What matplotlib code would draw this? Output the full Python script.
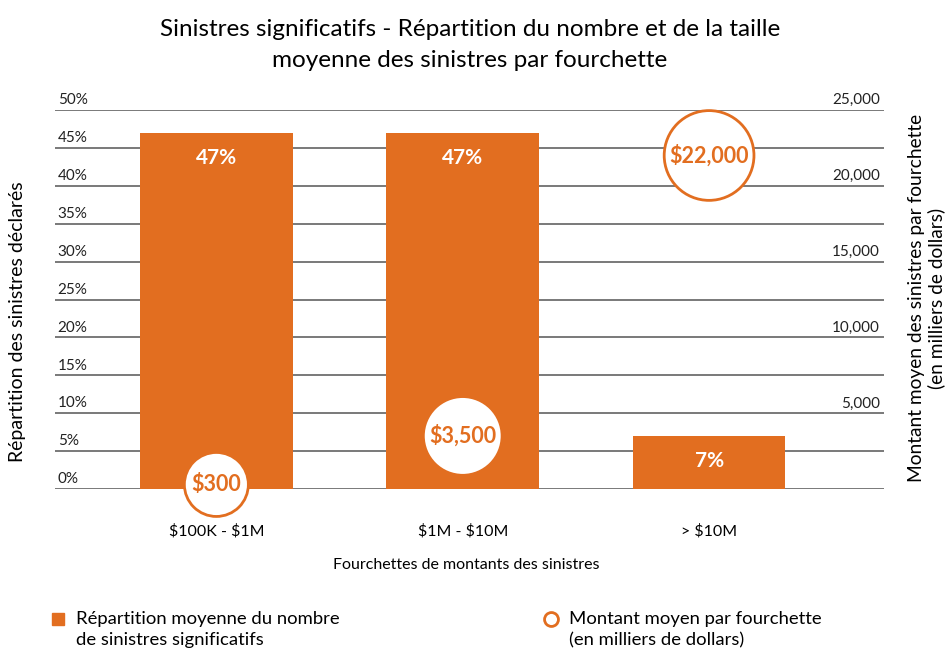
import numpy as np
import matplotlib

matplotlib.use("Agg")
import matplotlib.pyplot as plt  # noqa: E402
from matplotlib.lines import Line2D  # noqa: E402
from matplotlib.patches import Rectangle  # noqa: E402

# data
categories = ["$100K - $1M", "$1M - $10M", "> $10M"]
share_pct = [47, 47, 7]
avg_amount = [300, 3500, 22000]  # milliers de dollars
left_ticks = [0, 5, 10, 15, 20, 25, 30, 35, 40, 45, 50]
right_ticks = [5000, 10000, 15000, 20000, 25000]

ORANGE = "#e26e20"
GRID = "#555555"
FONT = "Lato"

plt.rcParams["font.family"] = [FONT, "DejaVu Sans"]
plt.rcParams["text.parse_math"] = False

fig = plt.figure(figsize=(9.51, 6.52), dpi=100)
ax = fig.add_axes([55 / 951, 1 - 489 / 652, 829 / 951, 379 / 652])
ax2 = ax.twinx()

x = np.arange(len(categories))
ax.set_xlim(-0.655, 2.71)
ax.set_ylim(0, 50)
ax2.set_ylim(0, 25000)

for a in (ax, ax2):
    for s in a.spines.values():
        s.set_visible(False)
    a.tick_params(left=False, right=False, bottom=False, labelleft=False, labelright=False)

ax.set_axisbelow(True)
ax.set_yticks(left_ticks)
ax.grid(axis="y", color=GRID, linewidth=1.1)
ax.grid(axis="x", visible=False)

ax.bar(x, share_pct, width=0.62, color=ORANGE, zorder=2)
for xi, v in zip(x, share_pct):
    ax.annotate(f"{v}%", (xi, v), xytext=(0, -18), textcoords="offset points",
                ha="center", va="center", color="white", fontsize=15, fontweight="bold")

# left tick labels sit on top of the grid lines
for t in left_ticks:
    ax.annotate(f"{t}%", (0, t), xycoords=("axes fraction", "data"), xytext=(2, 2),
                textcoords="offset points", ha="left", va="bottom", fontsize=11, color="#222222")
for t in right_ticks:
    ax2.annotate(f"{t:,}", (1, t), xycoords=("axes fraction", "data"), xytext=(-3, 2),
                 textcoords="offset points", ha="right", va="bottom", fontsize=11, color="#222222")

# bubbles: radius grows with log of the amount
radius_px = 32 + 3.0 * (np.log(avg_amount) - np.log(avg_amount[0]))
sizes = (2 * radius_px * 0.72) ** 2
ax2.scatter(x, avg_amount, s=sizes, facecolor="white", edgecolor=ORANGE,
            linewidth=2, zorder=3, clip_on=False)
for xi, v in zip(x, avg_amount):
    ax2.text(xi, v, f"${v:,}", ha="center", va="center", color=ORANGE,
             fontsize=15.5, fontweight="bold", zorder=4)

ax.set_xticks(x)
ax.set_xticklabels(categories, fontsize=11.5)
ax.tick_params(axis="x", pad=22, labelbottom=True)

fig.text(0.49, 1 - 565 / 652, "Fourchettes de montants des sinistres",
         ha="center", va="center", fontsize=11.5)

fig.text(18 / 951, 1 - 322 / 652, "Répartition des sinistres déclarés",
         rotation=90, ha="center", va="center", fontsize=14)
fig.text(927 / 951, 1 - 298 / 652,
         "Montant moyen des sinistres par fourchette\n(en milliers de dollars)",
         rotation=90, ha="center", va="center", fontsize=13.8, linespacing=1.15)

fig.text(0.494, 1 - 45 / 652,
         "Sinistres significatifs - Répartition du nombre et de la taille\n"
         "moyenne des sinistres par fourchette",
         ha="center", va="center", fontsize=17.5, linespacing=1.55)

# legend
fig.add_artist(Rectangle((52 / 951, 1 - 625 / 652), 12 / 951, 12 / 652,
                         transform=fig.transFigure, color=ORANGE))
fig.text(76 / 951, 1 - 611 / 652, "Répartition moyenne du nombre\nde sinistres significatifs",
         ha="left", va="top", fontsize=13.3, linespacing=1.4)
fig.add_artist(Line2D([551 / 951], [1 - 619 / 652], marker="o", markersize=10,
                      markerfacecolor="white", markeredgecolor=ORANGE, markeredgewidth=2,
                      linestyle="none", transform=fig.transFigure))
fig.text(569 / 951, 1 - 611 / 652, "Montant moyen par fourchette\n(en milliers de dollars)",
         ha="left", va="top", fontsize=13.3, linespacing=1.4)

fig.savefig("out.png", dpi=100)
